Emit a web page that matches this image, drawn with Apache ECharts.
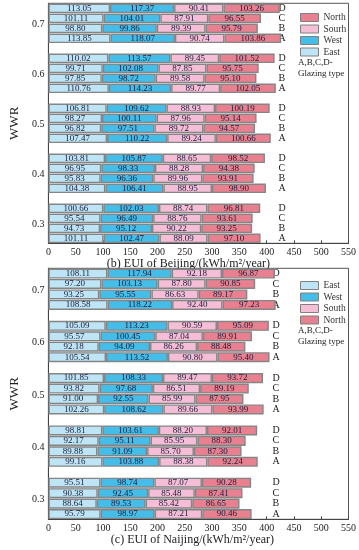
<!DOCTYPE html>
<html><head><meta charset="utf-8">
<script src="https://cdn.jsdelivr.net/npm/echarts@6/dist/echarts.min.js"></script>
<style>html,body{margin:0;padding:0;background:#fff}#c{width:359px;height:550px}</style>
</head><body><div id="c"></div>
<script>
// ---- data ----
const WWR = ['0.7','0.6','0.5','0.4','0.3'];
const GLAZING = ['D','C','B','A'];
const X_MIN = 0, X_MAX = 550, X_STEP = 50;

// Beijing (b): per WWR group, rows D,C,B,A
const bjEast  = [[113.05,101.11,98.80,113.85],[110.02,99.71,97.85,110.76],[106.81,98.27,96.82,107.47],[103.81,96.95,95.83,104.38],[100.66,95.54,94.73,101.11]];
const bjWest  = [[117.37,104.01,99.86,118.07],[113.57,102.08,98.72,114.23],[109.62,100.11,97.51,110.22],[105.87,98.33,96.36,106.41],[102.03,96.49,95.12,102.47]];
const bjSouth = [[90.41,87.91,89.39,90.74],[89.45,87.85,89.58,89.77],[88.93,87.96,89.72,89.24],[88.65,88.28,89.96,88.95],[88.74,88.76,90.22,88.09]];
const bjNorth = [[103.26,96.55,95.79,103.86],[101.52,95.75,95.10,102.05],[100.19,95.14,94.57,100.66],[98.52,94.38,93.91,98.90],[96.81,93.61,93.25,97.10]];

// Naijing (c)
const njEast  = [[108.11,97.20,93.25,108.58],[105.09,95.57,92.18,105.54],[101.85,93.82,91.00,102.26],[98.81,92.17,89.88,99.16],[95.51,90.38,88.64,95.79]];
const njWest  = [[117.94,103.13,95.55,118.22],[113.23,100.45,94.09,113.52],[108.33,97.68,92.55,108.62],[103.61,95.11,91.09,103.88],[98.74,92.45,89.53,98.97]];
const njSouth = [[92.18,87.80,86.63,92.40],[90.59,87.04,86.26,90.80],[89.47,86.51,85.99,89.66],[88.20,85.95,85.70,88.38],[87.07,85.48,85.42,87.21]];
const njNorth = [[96.87,90.85,89.17,97.23],[95.09,89.91,88.48,95.40],[93.72,89.19,87.95,93.99],[92.01,88.30,87.30,92.24],[90.28,87.41,86.65,90.46]];

const legendTop = ['North','Sourh','West','East'];
const legendBottom = ['East','West','South','North'];
const titleTop = '(b) EUI of Beijing/(kWh/m²/year)';
const titleBottom = '(c) EUI of Naijing/(kWh/m²/year)';
const noteText = 'A,B,C,D-\nGlazing type';

// ---- build ----
const SERIF = 'Liberation Serif';
const COLORS = {East:'#bde5f5', West:'#44bde8', South:'#f5bdd6', Sourh:'#f5bdd6', North:'#e8808f'};

const cats = [];
WWR.forEach((w,i)=>{ if(i>0) cats.push('gap'+i); GLAZING.forEach(g=>cats.push(w+' '+g)); });
function flat(groups){ const out=[]; groups.forEach((g,i)=>{ if(i>0) out.push('-'); g.forEach(v=>out.push(v)); }); return out; }

const grids = [
  {left:31, top:3.3, width:318, height:240, show:true, borderColor:'#555', borderWidth:1},
  {left:31, top:268.3, width:318, height:251, show:true, borderColor:'#555', borderWidth:1}
];

function xAxis(gi, name, pad){
  return {type:'value', gridIndex:gi, min:X_MIN, max:X_MAX, interval:X_STEP,
    splitLine:{show:false},
    axisLine:{show:true, lineStyle:{color:'#444'}},
    axisTick:{show:true, inside:true, length:3, lineStyle:{color:'#444'}},
    axisLabel:{fontFamily:SERIF, fontSize:10, color:'#222', margin:4},
    name:name, nameLocation:'middle', nameGap:14,
    nameTextStyle:{fontFamily:SERIF, fontSize:12, color:'#222', padding:pad}};
}
function yAxisMain(gi){
  return {type:'category', gridIndex:gi, data:cats, inverse:true,
    axisLine:{show:true, lineStyle:{color:'#444'}}, axisTick:{show:false},
    axisLabel:{interval:(idx)=>idx%5===1, formatter:(v)=>v.split(' ')[0],
      verticalAlign:'top', lineHeight:13, fontFamily:SERIF, fontSize:10, color:'#222', margin:4},
    name:'WWR', nameLocation:'middle', nameRotate:90, nameGap:21,
    nameTextStyle:{fontFamily:SERIF, fontSize:13, color:'#222'}};
}
function yAxisLetters(gi, off){
  return {type:'category', gridIndex:gi, data:cats, inverse:true, position:'right', offset:off,
    axisLine:{show:false}, axisTick:{show:false}, splitLine:{show:false},
    axisLabel:{interval:0, formatter:(v)=>v.startsWith('gap')?'':v.split(' ')[1],
      align:'left', margin:0, fontFamily:SERIF, fontSize:10, color:'#222'}};
}

function barSeries(name, data, gi, stack){
  return {type:'bar', name:name, xAxisIndex:gi, yAxisIndex:gi*2, stack:stack,
    data:flat(data), barCategoryGap:'4%',
    itemStyle:{color:COLORS[name], borderColor:'#858585', borderWidth:1.4},
    label:{show:true, position:'inside', formatter:(p)=>Number(p.value).toFixed(2),
      fontFamily:SERIF, fontSize:9, color:'#1b1b3a'},
    emphasis:{disabled:true}, animation:false};
}

const series = [
  barSeries('East', bjEast, 0, 'bj'), barSeries('West', bjWest, 0, 'bj'),
  barSeries('Sourh', bjSouth, 0, 'bj'), barSeries('North', bjNorth, 0, 'bj'),
  barSeries('East', njEast, 1, 'nj'), barSeries('West', njWest, 1, 'nj'),
  barSeries('South', njSouth, 1, 'nj'), barSeries('North', njNorth, 1, 'nj')
];

function legend(data, top){
  return {data:data, orient:'vertical', left:295, top:top, itemWidth:18, itemHeight:8, itemGap:1.5,
    icon:'rect', selectedMode:false,
    itemStyle:{borderColor:'#808080', borderWidth:1},
    textStyle:{fontFamily:SERIF, fontSize:9.5, color:'#333', lineHeight:9}};
}

const chart = echarts.init(document.getElementById('c'), null, {renderer:'canvas'});
chart.setOption({
  animation:false,
  grid:grids,
  xAxis:[xAxis(0, titleTop, [0,20,0,0]), xAxis(1, titleBottom, [0,12,0,0])],
  yAxis:[yAxisMain(0), yAxisLetters(0,-70), yAxisMain(1), yAxisLetters(1,-76)],
  legend:[legend(legendTop, 7.5), legend(legendBottom, 275.5)],
  graphic:[
    {type:'text', left:298, top:57, style:{text:noteText, font:'9px "Liberation Serif"', fill:'#222', lineHeight:11}},
    {type:'text', left:298, top:325, style:{text:noteText, font:'9px "Liberation Serif"', fill:'#222', lineHeight:11}}
  ],
  series:series
});
</script></body></html>
